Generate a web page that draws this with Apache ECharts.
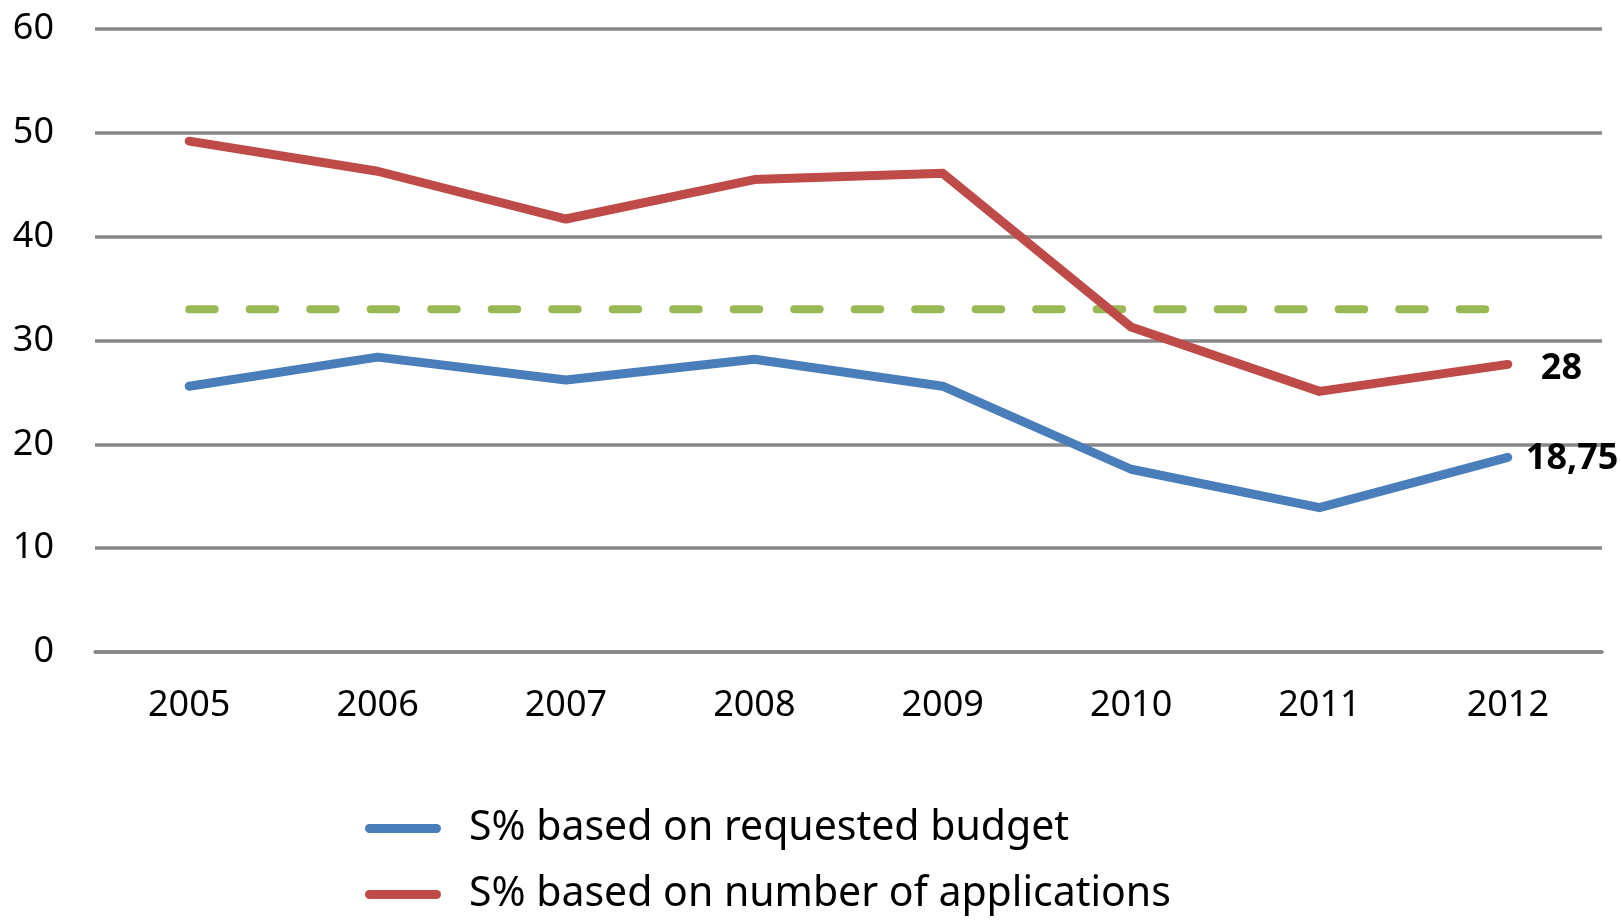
<!DOCTYPE html>
<html><head><meta charset="utf-8">
<script src="https://cdn.jsdelivr.net/npm/echarts@6/dist/echarts.min.js"></script>
<style>html,body{margin:0;padding:0;background:#fff}#c{width:1621px;height:923px}</style>
</head><body><div id="c"></div>
<script>
const years = ['2005','2006','2007','2008','2009','2010','2011','2012'];
const budgetSeries = [25.6, 28.4, 26.2, 28.2, 25.6, 17.6, 13.9, 18.75];
const applicationsSeries = [49.2, 46.3, 41.7, 45.5, 46.1, 31.3, 25.1, 27.7];
const referenceSeries = [33, 33, 33, 33, 33, 33, 33, 33];
const yTicks = [0, 10, 20, 30, 40, 50, 60];
const lastLabels = {budget: '18,75', applications: '28'};
const names = ['S% based on requested budget', 'S% based on number of applications'];

const endLabelStyle = {fontFamily: 'Noto Sans', fontWeight: 'bold', fontSize: 36, color: '#000'};

const chart = echarts.init(document.getElementById('c'));
chart.setOption({
  animation: false,
  grid: {left: 95, right: 19, top: 29, bottom: 271, containLabel: false},
  xAxis: {
    type: 'category', data: years, boundaryGap: true,
    axisLine: {show: true, lineStyle: {color: '#878787', width: 3.5}},
    axisTick: {show: false},
    axisLabel: {fontFamily: 'Noto Sans', fontSize: 36, color: '#000', margin: 36}
  },
  yAxis: {
    type: 'value', min: yTicks[0], max: yTicks[yTicks.length - 1], interval: 10,
    axisLine: {show: false}, axisTick: {show: false},
    axisLabel: {fontFamily: 'Noto Sans', fontSize: 36, color: '#000', margin: 41},
    splitLine: {lineStyle: {color: '#878787', width: 3.5}}
  },
  legend: {
    orient: 'vertical', left: 360, top: 803,
    data: names,
    itemWidth: 76, itemHeight: 9, itemGap: 25,
    icon: 'path://M4.5,0 L71.5,0 A4.5,4.5 0 0 1 71.5,9 L4.5,9 A4.5,4.5 0 0 1 4.5,0 Z',
    textStyle: {fontFamily: 'Noto Sans', fontSize: 41, color: '#000', lineHeight: 41, padding: [0, 0, 0, 23]}
  },
  series: [
    {name: names[0], type: 'line', data: budgetSeries,
      symbol: 'none', color: '#4A7EBB',
      lineStyle: {width: 9, color: '#4A7EBB', cap: 'round', join: 'round'},
      endLabel: Object.assign({show: true, distance: 18, offset: [0, 1], formatter: lastLabels.budget}, endLabelStyle)},
    {name: names[1], type: 'line', data: applicationsSeries,
      symbol: 'none', color: '#BE4B48',
      lineStyle: {width: 9, color: '#BE4B48', cap: 'round', join: 'round'},
      endLabel: Object.assign({show: true, distance: 33, offset: [0, 4], formatter: lastLabels.applications}, endLabelStyle)},
    {name: 'ref', type: 'line', data: referenceSeries, symbol: 'none', color: '#98B954', z: 1,
      lineStyle: {width: 8, color: '#98B954', type: [25.5, 35], cap: 'round'}}
  ]
});
</script></body></html>
